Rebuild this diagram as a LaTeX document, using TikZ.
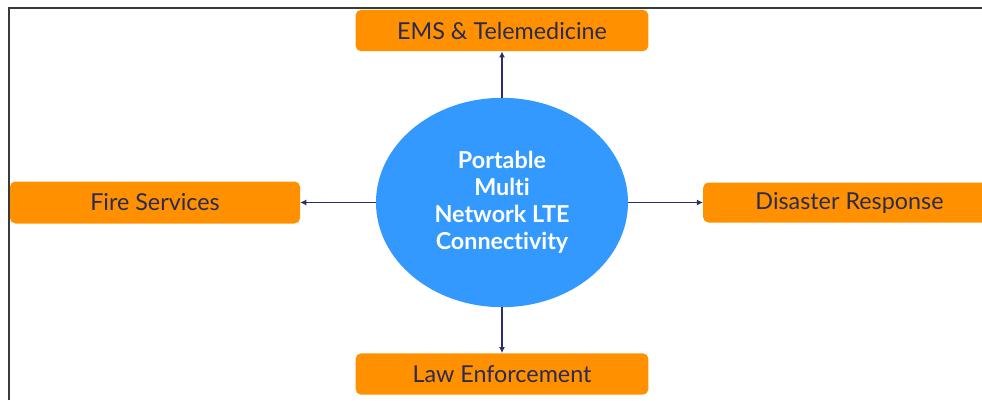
\documentclass[tikz,border=0pt]{standalone}
\usepackage{fontspec}
\setmainfont{Lato}[Ligatures={NoCommon}]
\usetikzlibrary{arrows.meta,shapes.geometric}
\definecolor{FrameGrey}{HTML}{3A3A3A}
\definecolor{ServiceOrange}{HTML}{FF9100}
\definecolor{HubBlue}{HTML}{3399FF}
\definecolor{LinkNavy}{HTML}{2B2D6E}
\definecolor{LabelNavy}{HTML}{2A2A55}

\tikzset{
  servicebox/.style={fill=ServiceOrange,rounded corners=4pt,
    minimum width=219.5pt,minimum height=31pt,inner sep=0pt,
    text=LabelNavy,font=\fontsize{17.5}{20}\selectfont},
  hubnode/.style={ellipse,fill=HubBlue,inner sep=0pt,
    minimum width=189pt,minimum height=157pt,
    text=white,align=center,
    font=\bfseries\fontsize{17.5}{20.3}\selectfont},
  link/.style={-{Latex[length=4.5pt,width=4.5pt]},LinkNavy,line width=0.8pt}
}

\begin{document}
\begin{tikzpicture}[x=0.75pt,y=-0.75pt]

        \useasboundingbox (0,0) rectangle (982,400);
        \clip (0,0) rectangle (982,400);

        \draw[FrameGrey,line width=1.1pt]
          (9,400) -- (9,8) -- (982,8);

        \node[hubnode] (hub) at (502,202.5)
          {Portable\\Multi\\Network LTE\\Connectivity};

        \node[servicebox] (ems) at (502,30.5) {EMS \& Telemedicine};

        \node[servicebox] (law) at (502,374) {Law Enforcement};

        \node[servicebox,minimum width=217.5pt,minimum height=31.5pt]
          (fire) at (155,202.5) {Fire Services};

        \node[servicebox,minimum height=30pt]
          (disaster) at (849.5,202.5) {Disaster Response};

        \draw[link] (hub.north) -- (ems.south);

        \draw[link] (hub.south) -- (law.north);

        \draw[link] (hub.west) -- (fire.east);

        \draw[link] (hub.east) -- (disaster.west);

      \end{tikzpicture}
\end{document}
